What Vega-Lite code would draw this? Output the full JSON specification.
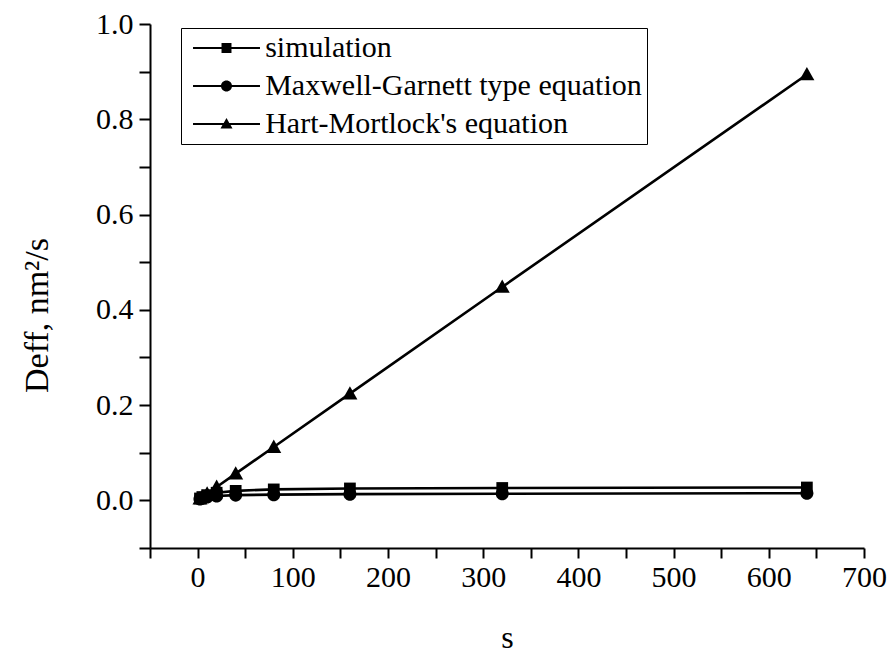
{
  "$schema": "https://vega.github.io/schema/vega-lite/v6.json",
  "width": 714,
  "height": 524,
  "autosize": "none",
  "padding": {"left": 150, "top": 24, "right": 29, "bottom": 105},
  "background": "white",
  "config": {"view": {"stroke": null}, "font": "Liberation Serif"},
  "data": {
    "values": [
      {"s": 2.5, "D": 0.004, "series": "simulation"},
      {"s": 5, "D": 0.007, "series": "simulation"},
      {"s": 10, "D": 0.011, "series": "simulation"},
      {"s": 20, "D": 0.016, "series": "simulation"},
      {"s": 40, "D": 0.02, "series": "simulation"},
      {"s": 80, "D": 0.023, "series": "simulation"},
      {"s": 160, "D": 0.025, "series": "simulation"},
      {"s": 320, "D": 0.026, "series": "simulation"},
      {"s": 640, "D": 0.027, "series": "simulation"},
      {"s": 2.5, "D": 0.003, "series": "Maxwell-Garnett type equation"},
      {"s": 5, "D": 0.005, "series": "Maxwell-Garnett type equation"},
      {"s": 10, "D": 0.007, "series": "Maxwell-Garnett type equation"},
      {"s": 20, "D": 0.009, "series": "Maxwell-Garnett type equation"},
      {"s": 40, "D": 0.011, "series": "Maxwell-Garnett type equation"},
      {"s": 80, "D": 0.012, "series": "Maxwell-Garnett type equation"},
      {"s": 160, "D": 0.013, "series": "Maxwell-Garnett type equation"},
      {"s": 320, "D": 0.014, "series": "Maxwell-Garnett type equation"},
      {"s": 640, "D": 0.015, "series": "Maxwell-Garnett type equation"},
      {"s": 2.5, "D": 0.0035, "series": "Hart-Mortlock's equation"},
      {"s": 5, "D": 0.007, "series": "Hart-Mortlock's equation"},
      {"s": 10, "D": 0.014, "series": "Hart-Mortlock's equation"},
      {"s": 20, "D": 0.028, "series": "Hart-Mortlock's equation"},
      {"s": 40, "D": 0.056, "series": "Hart-Mortlock's equation"},
      {"s": 80, "D": 0.112, "series": "Hart-Mortlock's equation"},
      {"s": 160, "D": 0.224, "series": "Hart-Mortlock's equation"},
      {"s": 320, "D": 0.448, "series": "Hart-Mortlock's equation"},
      {"s": 640, "D": 0.894, "series": "Hart-Mortlock's equation"}
    ]
  },
  "encoding": {
    "x": {
      "field": "s",
      "type": "quantitative",
      "scale": {"domain": [-50, 700], "nice": false, "zero": false},
      "axis": {
        "title": "s",
        "values": [-50, 0, 50, 100, 150, 200, 250, 300, 350, 400, 450, 500, 550, 600, 650, 700],
        "labelExpr": "datum.value >= 0 && datum.value % 100 === 0 ? datum.label : ''",
        "labelOverlap": false,
        "labelFlush": false,
        "grid": false,
        "domainColor": "black",
        "domainWidth": 2,
        "tickColor": "black",
        "tickWidth": 2,
        "tickSize": 10,
        "labelFont": "Liberation Serif",
        "labelFontSize": 30,
        "labelColor": "black",
        "labelPadding": 4,
        "titleFont": "Liberation Serif",
        "titleFontSize": 32,
        "titleFontWeight": "normal",
        "titleColor": "black",
        "titleBaseline": "alphabetic",
        "titleX": 357,
        "titleY": 99,
        "encode": {
          "ticks": {
            "y2": {"condition": {"test": "datum.value % 100 !== 0", "value": 5}, "value": 10}
          }
        }
      }
    },
    "y": {
      "field": "D",
      "type": "quantitative",
      "scale": {"domain": [-0.1, 1.0], "nice": false, "zero": false},
      "axis": {
        "title": "Deff, nm²/s",
        "values": [-0.1, 0, 0.1, 0.2, 0.3, 0.4, 0.5, 0.6, 0.7, 0.8, 0.9, 1.0],
        "labelExpr": "datum.value > -0.05 && round(datum.value * 10) % 2 === 0 ? format(datum.value, '.1f') : ''",
        "labelOverlap": false,
        "labelFlush": false,
        "grid": false,
        "domainColor": "black",
        "domainWidth": 2,
        "tickColor": "black",
        "tickWidth": 2,
        "tickSize": 11,
        "labelFont": "Liberation Serif",
        "labelFontSize": 30,
        "labelColor": "black",
        "labelPadding": 6,
        "titleFont": "Liberation Serif",
        "titleFontSize": 34,
        "titleFontWeight": "normal",
        "titleColor": "black",
        "titleBaseline": "alphabetic",
        "titleAngle": -90,
        "titleX": -103,
        "titleY": 291,
        "encode": {
          "ticks": {
            "x2": {"condition": {"test": "round(datum.value * 10) % 2 !== 0", "value": -6}, "value": -11}
          }
        }
      }
    }
  },
  "layer": [
    {
      "mark": {"type": "line", "color": "black", "strokeWidth": 2.6},
      "encoding": {"detail": {"field": "series", "type": "nominal"}}
    },
    {
      "mark": {"type": "point", "filled": true, "color": "black", "opacity": 1, "size": 170, "strokeWidth": 0},
      "encoding": {
        "shape": {
          "field": "series",
          "type": "nominal",
          "scale": {
            "domain": ["simulation", "Maxwell-Garnett type equation", "Hart-Mortlock's equation"],
            "range": [
              "M-0.9,-0.9H0.9V0.9H-0.9Z",
              "M1,0A1,1 0 1,1 -1,0A1,1 0 1,1 1,0Z",
              "M0,-1.15L1.15,0.9H-1.15Z"
            ]
          },
          "legend": null
        }
      }
    },
    {
      "mark": {"type": "point", "filled": true, "color": "black", "opacity": 0, "size": 144, "strokeWidth": 0},
      "encoding": {
        "shape": {
          "field": "series",
          "type": "nominal",
          "scale": {
            "domain": ["simulation", "Maxwell-Garnett type equation", "Hart-Mortlock's equation"],
            "range": [
              "M-5.58,-0.18H-0.83V-0.83H0.83V-0.18H5.58V0.18H0.83V0.83H-0.83V0.18H-5.58Z",
              "M-5.58,-0.18H5.58V0.18H-5.58Z M0.92,0A0.92,0.92 0 1,1 -0.92,0A0.92,0.92 0 1,1 0.92,0Z",
              "M-5.58,-0.18H-0.469L0,-1L0.469,-0.18H5.58V0.18H0.674L1,0.75H-1L-0.674,0.18H-5.58Z"
            ]
          },
          "legend": {
            "title": null,
            "orient": "none",
            "legendX": 31,
            "legendY": 4,
            "fillColor": "white",
            "strokeColor": "black",
            "padding": 5,
            "rowPadding": 8,
            "symbolSize": 144,
            "symbolOpacity": 1,
            "symbolStrokeWidth": 0,
            "symbolOffset": 25.5,
            "labelOffset": 23.7,
            "labelLimit": 1000,
            "labelFont": "Liberation Serif",
            "labelFontSize": 30,
            "labelColor": "black"
          }
        }
      }
    }
  ],
  "resolve": {"scale": {"shape": "independent"}, "legend": {"shape": "independent"}}
}
